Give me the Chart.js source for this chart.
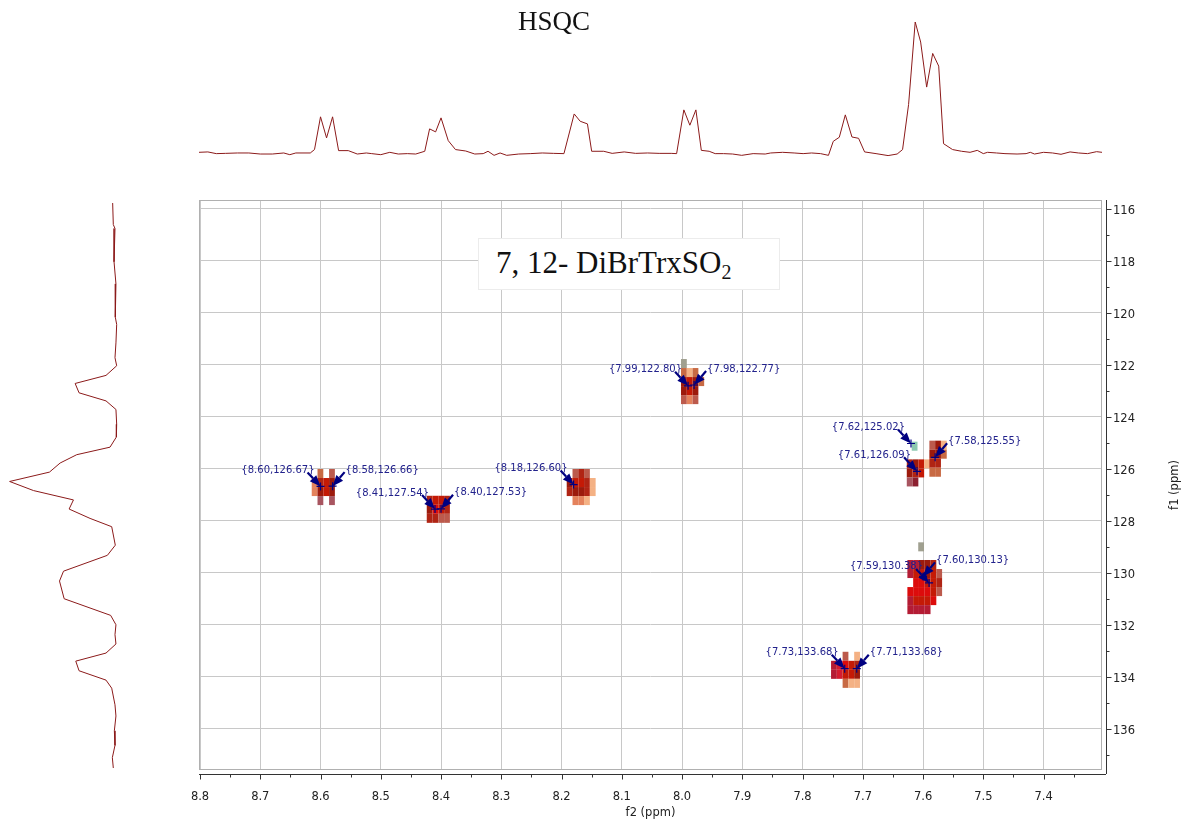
<!DOCTYPE html>
<html>
<head>
<meta charset="utf-8">
<title>HSQC — 7, 12- DiBrTrxSO2</title>
<script src="https://cdn.jsdelivr.net/npm/chart.js@4.4.1/dist/chart.umd.min.js"></script>
<style>
  html,body{margin:0;padding:0;background:#fff;}
  #stage{position:relative;width:1188px;height:823px;overflow:hidden;}
  #stage canvas{position:absolute;}
  #mainChart{left:0;top:0;}
  #topChart{left:199px;top:0;}
  #leftChart{left:0;top:200px;}
  .hsqc{position:absolute;left:484px;top:6px;width:140px;text-align:center;
    font-family:"Liberation Serif","DejaVu Serif",serif;font-size:27px;color:#111;}
  .sample{position:absolute;left:478px;top:238px;width:302px;height:52px;box-sizing:border-box;
    background:#fff;border:1px solid #ececec;padding-left:17px;text-align:left;line-height:47px;
    font-family:"Liberation Serif","DejaVu Serif",serif;font-size:31px;color:#111;white-space:nowrap;}
  .sample sub{font-size:20px;line-height:0;vertical-align:-6px;}
</style>
</head>
<body>
<div id="stage">
  <canvas id="mainChart" width="1188" height="823"></canvas>
  <canvas id="topChart" width="903" height="170"></canvas>
  <canvas id="leftChart" width="130" height="570"></canvas>
  <div class="hsqc">HSQC</div>
  <div class="sample">7, 12- DiBrTrxSO<sub>2</sub></div>
</div>
<script>
/* Spectre HSQC : projection 1H en haut, projection 13C à gauche,
   contours + annotations de pics au centre. */

// projection f2 (1H) — ppm / intensité relative (pic max = 100)
const topPpm = [
  8.802,8.787,8.773,8.758,8.738,8.719,8.700,8.680,8.661,8.651,
  8.641,8.617,8.610,8.600,8.590,8.580,8.570,8.554,8.539,8.524,
  8.515,8.500,8.485,8.471,8.456,8.442,8.427,8.419,8.409,8.400,
  8.388,8.376,8.359,8.344,8.330,8.322,8.312,8.302,8.291,8.271,
  8.252,8.232,8.213,8.196,8.179,8.169,8.157,8.150,8.130,8.116,
  8.096,8.077,8.057,8.038,8.018,8.009,7.997,7.987,7.977,7.968,
  7.955,7.945,7.931,7.916,7.901,7.882,7.862,7.853,7.833,7.814,
  7.799,7.785,7.770,7.757,7.749,7.739,7.729,7.718,7.707,7.697,
  7.678,7.658,7.643,7.634,7.624,7.613,7.604,7.594,7.584,7.574,
  7.566,7.551,7.536,7.522,7.510,7.500,7.493,7.478,7.464,7.444,
  7.429,7.422,7.415,7.400,7.385,7.371,7.356,7.342,7.327,7.312,
  7.303
];
const topInt = [
  0.5,0.8,-0.5,-0.3,0,0,-0.8,-0.8,0,-1.3,
  0,0,2.6,27.6,11.5,27.6,1.8,1.8,-0.8,0,
  -0.5,-1.3,0.5,-0.8,-0.5,-0.8,1.3,18.4,16.1,26.8,
  9.4,2.6,1.5,-0.8,-0.5,1.3,-1.8,0,-1.8,-0.8,
  -0.5,0,-0.3,-0.5,29.8,24.2,22.2,1.3,1.3,-0.3,
  0.8,-0.3,0,-0.3,-0.3,-0.5,32.9,21.2,32.9,2.0,
  1.3,-0.5,-0.5,-0.8,-1.8,-0.5,-0.8,0,0.5,0,
  -0.5,0,-0.5,-1.8,8.9,12.0,29.1,12.2,11.2,0.8,
  -0.5,-2.0,-0.8,2.6,37.0,100,84.7,50.3,76.0,66.3,
  7.1,2.6,1.3,0.5,2.0,-0.5,0.5,0,-0.5,-0.8,
  -0.5,0.5,-0.8,0.5,0,-1.0,0.8,0,-0.5,1.0,
  0.5
];

// projection f1 (13C) — ppm / intensité relative
const leftPpm = [
  115.77,116.60,116.75,118.03,118.88,120.16,120.44,121.15,121.72,122.03,
  122.40,122.71,123.07,123.38,123.71,124.28,124.77,125.16,125.45,125.77,
  126.12,126.48,126.83,127.19,127.54,127.90,128.22,128.93,129.32,129.93,
  130.31,130.99,131.63,131.99,132.37,132.73,133.08,133.39,133.76,134.12,
  134.43,135.07,135.50,136.07,136.63,137.10,137.50
];
const leftInt = [
  2.2,1.6,0,0.9,-0.9,-0.3,-1.6,-0.9,0,-1.6,
  8.5,37.7,34.0,8.5,-0.9,-1.6,-1.3,4.7,36.2,51.9,
  62.0,99.7,77.1,39.3,43.4,23.6,3.1,-0.3,7.2,48.7,
  52.5,48.1,4.1,-0.9,0,-0.9,8.5,37.1,34.0,8.5,
  3.1,0,-0.9,0.6,0,2.5,1.6
];

// pics annotés (f2, f1) et côté de l'étiquette
const peakF2 = [8.60,8.58,8.41,8.40,8.18,7.99,7.98,7.62,7.61,7.58,7.59,7.60,7.73,7.71];
const peakF1 = [126.67,126.66,127.54,127.53,126.60,122.80,122.77,125.02,126.09,125.55,130.38,130.13,133.68,133.68];
const labelSide = ['L','R','L','R','L','L','R','L','L','R','L','R','L','R'];

// blocs de contours : coin haut-gauche (ppm) + niveau de chaque cellule
// '.' = vide, 1..c = positif (clair -> foncé / cramoisi), g = gris, t = phase négative
const blockF2 = [8.6146,8.4237,8.1914,8.0017,7.6188,7.6270,7.5895,7.6080,7.6260,7.7527];
const blockF1 = [126.00,127.03,126.00,121.77,124.95,125.63,124.91,128.82,129.50,133.03];
const blockLevels = [
  [".3.4","2576","2676",".a.a"],
  ["5775","6875","5544"],
  [".454.","67751","56651",".221."],
  ["g...","313.","6763","676.","424."],
  ["t"],
  ["5671","657.","ab.."],
  ["461","663","55.","33."],
  ["g"],
  ["99665.","977674",".88775","888874","97778.","9999.."],
  ["..4.1","9c875","9c776","..311"]
];

const F2_MIN = 7.303, F2_MAX = 8.8017;
const F1_MIN = 115.654, F1_MAX = 137.577;
const CELL_W = 0.0096, CELL_H = 0.347;

const TONES = {
  '1':'#f4b184','2':'#e4825c','3':'#c86a44','4':'#bc5a4c','5':'#b02414','6':'#9c1a0c',
  '7':'#c41a06','8':'#dc0c0c','9':'#b41c34','a':'#a85560','b':'#8c2030','c':'#d41c30',
  'g':'#a0a090','t':'#8cc8b0'
};
const NAVY = '#000080';
const GRID = '#c8c8c8';
const TICK_FONT = {family:'"DejaVu Sans", Verdana, sans-serif', size:11.5};
const TRACE = '#8b1a1a';

const isMajor = (v, step)=> Math.abs(v/step - Math.round(v/step)) < 1e-6;

function drawArrow(ctx, x0, y0, x1, y1){
  const a = Math.atan2(y1-y0, x1-x0), head = 11, half = 4.4;
  const bx = x1 - head*Math.cos(a), by = y1 - head*Math.sin(a);
  ctx.beginPath(); ctx.moveTo(x0,y0); ctx.lineTo(bx,by); ctx.stroke();
  ctx.beginPath();
  ctx.moveTo(x1,y1);
  ctx.lineTo(bx + half*Math.sin(a), by - half*Math.cos(a));
  ctx.lineTo(bx - half*Math.sin(a), by + half*Math.cos(a));
  ctx.closePath(); ctx.fill();
}

const nmrPlugin = {
  id:'nmrPlugin',
  beforeDatasetsDraw(chart){
    const {ctx, scales:{x,y}} = chart;
    ctx.save();
    blockLevels.forEach((rows,b)=>{
      rows.forEach((row,r)=>{
        [...row].forEach((ch,c)=>{
          if(ch==='.') return;
          const x0 = x.getPixelForValue(blockF2[b] - c*CELL_W);
          const x1 = x.getPixelForValue(blockF2[b] - (c+1)*CELL_W);
          const y0 = y.getPixelForValue(blockF1[b] + r*CELL_H);
          const y1 = y.getPixelForValue(blockF1[b] + (r+1)*CELL_H);
          ctx.fillStyle = TONES[ch];
          ctx.fillRect(Math.min(x0,x1), y0, Math.abs(x1-x0), y1-y0);
        });
      });
    });
    ctx.restore();
  },
  afterDatasetsDraw(chart){
    const {ctx, scales:{x,y}} = chart;
    ctx.save();
    ctx.strokeStyle = NAVY; ctx.fillStyle = NAVY; ctx.lineWidth = 2.2;
    peakF2.forEach((f2,i)=>{
      const px = x.getPixelForValue(f2), py = y.getPixelForValue(peakF1[i]);
      const left = labelSide[i]==='L';
      drawArrow(ctx, left ? px-13 : px+12, py-14, px, py);
    });
    ctx.font = '10px "DejaVu Sans", Verdana, sans-serif';
    ctx.fillStyle = '#22228c';
    ctx.textBaseline = 'middle';
    peakF2.forEach((f2,i)=>{
      const px = x.getPixelForValue(f2), py = y.getPixelForValue(peakF1[i]);
      const left = labelSide[i]==='L';
      ctx.textAlign = left ? 'right' : 'left';
      ctx.fillText(`{${f2.toFixed(2)},${peakF1[i].toFixed(2)}}`, left ? px-6 : px+13, py-16);
    });
    ctx.restore();
  },
  afterDraw(chart){
    const {ctx, chartArea:ca, scales:{x,y}} = chart;
    ctx.save();
    // cadre du tracé
    ctx.strokeStyle = '#b0b0b0'; ctx.lineWidth = 1;
    ctx.strokeRect(ca.left+0.5, ca.top+0.5, ca.right-ca.left-1, ca.bottom-ca.top-1);
    // axes décalés + graduations
    ctx.strokeStyle = '#333'; ctx.beginPath();
    const ax = ca.bottom + 4.5, ay = ca.right + 4.5;
    ctx.moveTo(ca.left, ax); ctx.lineTo(ca.right+4, ax);
    ctx.moveTo(ay, ca.top); ctx.lineTo(ay, ca.bottom+4);
    x.ticks.forEach(t=>{
      const p = Math.round(x.getPixelForValue(t.value)) + 0.5;
      ctx.moveTo(p, ax); ctx.lineTo(p, ax + (isMajor(t.value,0.1) ? 5 : 3));
    });
    y.ticks.forEach(t=>{
      const p = Math.round(y.getPixelForValue(t.value)) + 0.5;
      ctx.moveTo(ay, p); ctx.lineTo(ay + (isMajor(t.value,2) ? 5 : 3), p);
    });
    ctx.stroke();
    // titre de l'axe f1, lu de bas en haut
    ctx.translate(1175, (ca.top+ca.bottom)/2);
    ctx.rotate(-Math.PI/2);
    ctx.font = '11.5px "DejaVu Sans", Verdana, sans-serif';
    ctx.fillStyle = '#222'; ctx.textAlign = 'center'; ctx.textBaseline = 'middle';
    ctx.fillText('f1 (ppm)', 0, 0);
    ctx.restore();
  }
};

function makeMain(){
  new Chart(document.getElementById('mainChart'), {
    type:'scatter',
    data:{datasets:[{
      data: peakF2.map((v,i)=>({x:v, y:peakF1[i]})),
      pointStyle:'cross', pointRadius:4, borderColor:NAVY, borderWidth:1.2, showLine:false,
    }]},
    options:{
      responsive:false, animation:false, events:[],
      layout:{padding:{left:199, top:200, right:0, bottom:0}},
      plugins:{legend:{display:false}, tooltip:{enabled:false}},
      scales:{
        x:{
          type:'linear', reverse:true, min:F2_MIN, max:F2_MAX,
          afterFit(s){ s.height = 53; },
          border:{display:false},
          grid:{drawTicks:false, color:c=> (c.tick && isMajor(c.tick.value,0.1)) ? GRID : 'rgba(0,0,0,0)'},
          ticks:{stepSize:0.05, includeBounds:false, autoSkip:false, maxRotation:0, padding:20,
            font:TICK_FONT, color:'#222',
            callback:v=> isMajor(v,0.1) ? v.toFixed(1) : ''},
          title:{display:true, text:'f2 (ppm)', font:TICK_FONT, color:'#222', padding:{top:0, bottom:3}},
        },
        y:{
          type:'linear', position:'right', reverse:true, min:F1_MIN, max:F1_MAX,
          afterFit(s){ s.width = 86; },
          border:{display:false},
          grid:{drawTicks:false, color:c=> (c.tick && isMajor(c.tick.value,2)) ? GRID : 'rgba(0,0,0,0)'},
          ticks:{stepSize:1, includeBounds:false, autoSkip:false, padding:11, labelOffset:2,
            font:TICK_FONT, color:'#222',
            callback:v=> isMajor(v,2) ? String(v) : ''},
        },
      },
    },
    plugins:[nmrPlugin],
  });
}

function makeProjection(id, points, xs, ys){
  new Chart(document.getElementById(id), {
    type:'scatter',
    data:{datasets:[{data:points, showLine:true, pointRadius:0, borderColor:TRACE, borderWidth:1}]},
    options:{
      responsive:false, animation:false, events:[],
      layout:{padding:0},
      plugins:{legend:{display:false}, tooltip:{enabled:false}},
      scales:{x:{display:false, ...xs}, y:{display:false, ...ys}},
    },
  });
}

makeMain();
makeProjection('topChart',
  topPpm.map((p,i)=>({x:p, y:topInt[i]})),
  {type:'linear', reverse:true, min:F2_MIN, max:F2_MAX},
  {type:'linear', min:-13.0, max:116.8});
makeProjection('leftChart',
  leftPpm.map((p,i)=>({x:leftInt[i], y:p})),
  {type:'linear', reverse:true, min:-14.2, max:108.8},
  {type:'linear', reverse:true, min:F1_MIN, max:F1_MAX});
</script>
</body>
</html>
